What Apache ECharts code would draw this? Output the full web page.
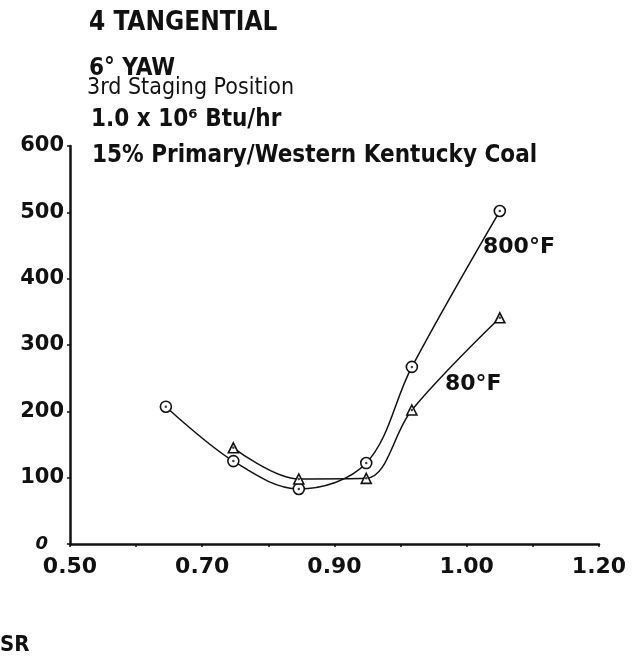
<!DOCTYPE html>
<html>
<head>
<meta charset="utf-8">
<title>4 Tangential - 6° Yaw</title>
<script src="https://cdn.jsdelivr.net/npm/echarts@6/dist/echarts.min.js"></script>
<style>
  html, body { margin: 0; padding: 0; background: #fff; }
  #chart { width: 641px; height: 660px; }
</style>
</head>
<body>
<div id="chart"></div>
<script>
// x values on the drawn (uniform) SR scale
const sr800 = [0.645, 0.747, 0.846, 0.948, 1.017, 1.15]
const nox800 = [207, 125, 83, 122, 267, 502]
const sr80 = [0.747, 0.846, 0.948, 1.017, 1.15]
const nox80 = [145, 98, 99, 202, 341]

// printed tick labels (as they appear on the original plot)
const xTickValues = [0.5, 0.7, 0.9, 1.1, 1.3]
const xTickLabels = ['0.50', '0.70', '0.90', '1.00', '1.20']
const yTickValues = [0, 100, 200, 300, 400, 500, 600]

const headFont = '"Liberation Sans Narrow", "DejaVu Sans Condensed", "Liberation Sans", sans-serif'
const numFont = '"DejaVu Sans", "Liberation Sans", sans-serif'

function pairs(xs, ys) {
  return xs.map((x, i) => [x, ys[i]])
}

const chart = echarts.init(document.getElementById('chart'))

function headText(text, x, y, size, weight) {
  return {
    type: 'text',
    left: x,
    top: y,
    style: {
      text: text,
      font: weight + ' ' + size + 'px ' + headFont,
      fill: '#111',
    },
  }
}

function curve(name, data, symbol, size) {
  return {
    name: name,
    type: 'line',
    data: data,
    smooth: 0.35,
    symbol: symbol,
    symbolSize: size,
    showSymbol: true,
    lineStyle: { color: '#111', width: 1.5 },
    itemStyle: { color: '#fff', borderColor: '#111', borderWidth: 1.6 },
    z: 3,
  }
}

function dots(data) {
  return {
    type: 'scatter',
    data: data,
    symbol: 'circle',
    symbolSize: 2.5,
    itemStyle: { color: '#111' },
    silent: true,
    z: 4,
  }
}

const option = {
  backgroundColor: '#fff',
  animation: false,
  grid: { left: 70, right: 42, top: 146, bottom: 116 },
  xAxis: {
    type: 'value',
    min: 0.5,
    max: 1.3,
    interval: 0.1,
    splitLine: { show: false },
    axisLine: { lineStyle: { color: '#111', width: 2.5 } },
    axisTick: { show: true, length: 3, lineStyle: { color: '#111', width: 1.5 } },
    axisLabel: {
      margin: 12,
      color: '#111',
      fontFamily: numFont,
      fontWeight: 'bold',
      fontSize: 22,
      showMinLabel: true,
      showMaxLabel: true,
      formatter: function (v) {
        const i = xTickValues.findIndex(t => Math.abs(t - v) < 1e-6)
        return i >= 0 ? xTickLabels[i] : ''
      },
    },
  },
  yAxis: {
    type: 'value',
    min: yTickValues[0],
    max: yTickValues[yTickValues.length - 1],
    interval: 100,
    splitLine: { show: false },
    axisLine: { show: true, lineStyle: { color: '#111', width: 2.5 } },
    axisTick: { show: true, length: 3, lineStyle: { color: '#111', width: 1.5 } },
    axisLabel: {
      margin: 6,
      color: '#111',
      fontFamily: numFont,
      fontWeight: 'bold',
      fontSize: 21,
      formatter: function (v) {
        return v === 0 ? '{z|0}' : String(v)
      },
      rich: {
        z: { fontSize: 18, fontStyle: 'italic', fontWeight: 'bold', fontFamily: numFont, color: '#111', padding: [0, 16, 0, 0] },
      },
    },
  },
  graphic: [
    headText('4 TANGENTIAL', 89, 10, 26, 'bold'),
    headText('6° YAW', 89, 57, 24, 'bold'),
    headText('3rd Staging Position', 87, 77, 23, 'normal'),
    headText('1.0 x 10⁶ Btu/hr', 91, 108, 24, 'bold'),
    headText('15% Primary/Western Kentucky Coal', 92, 144, 24, 'bold'),
    {
      type: 'text', left: 483, top: 236,
      style: { text: '800°F', font: 'bold 22px ' + numFont, fill: '#111' },
    },
    {
      type: 'text', left: 445, top: 373,
      style: { text: '80°F', font: 'bold 22px ' + numFont, fill: '#111' },
    },
    {
      type: 'text', left: 0, top: 634,
      style: { text: 'SR', font: 'bold 22px ' + headFont, fill: '#111' },
    },
  ],
  series: [
    curve('800°F', pairs(sr800, nox800), 'circle', 11),
    curve('80°F', pairs(sr80, nox80), 'triangle', 10),
    dots(pairs(sr800, nox800)),
    dots(pairs(sr80, nox80)),
  ],
}

chart.setOption(option)
</script>
</body>
</html>
